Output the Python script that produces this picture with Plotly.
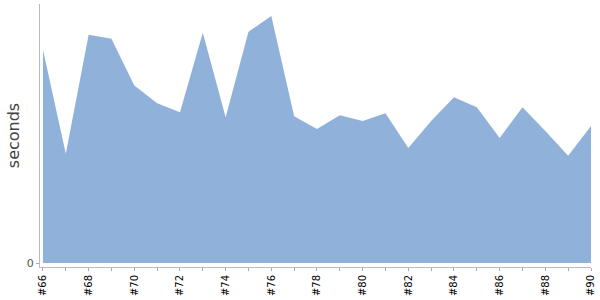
import plotly.graph_objects as go

categories = ["#%d" % n for n in range(66, 91)]
seconds = [215, 110, 230, 226, 179, 161, 152, 232, 147, 233, 249, 148, 135,
           149, 143, 151, 116, 143, 167, 157, 126, 157, 133, 108, 138]
tick_labels = [c if i % 2 == 0 else "" for i, c in enumerate(categories)]

fig = go.Figure()
fig.add_trace(go.Scatter(
    x=categories, y=seconds, mode="lines", fill="tozeroy",
    fillcolor="#8FB1DA", line=dict(width=0, color="#8FB1DA"),
    hoverinfo="skip", showlegend=False,
))

fig.update_layout(
    width=600, height=300,
    margin=dict(l=40, r=9, t=4, b=31),
    paper_bgcolor="white", plot_bgcolor="white",
    font=dict(family="DejaVu Sans", size=10, color="#000"),
)
fig.update_xaxes(
    type="category", categoryorder="array", categoryarray=categories,
    range=[-0.13, 24], tickvals=categories, ticktext=tick_labels,
    tickangle=-90, ticks="outside", ticklen=3, tickcolor="#aaa",
    showline=True, linecolor="#bbb", linewidth=1,
    showgrid=False, zeroline=False,
    tickfont=dict(family="DejaVu Sans", size=10, color="#000"),
)
fig.update_yaxes(
    range=[-4, 261], tickvals=[0], ticktext=["0"],
    ticks="outside", ticklen=3, tickcolor="#aaa",
    showline=True, linecolor="#bbb", linewidth=1,
    showgrid=False, zeroline=False,
    tickfont=dict(family="DejaVu Sans", size=11, color="#555"),
    title=dict(text="seconds", font=dict(family="DejaVu Sans", size=16, color="#444"), standoff=3),
)

fig.write_html("out.html")
